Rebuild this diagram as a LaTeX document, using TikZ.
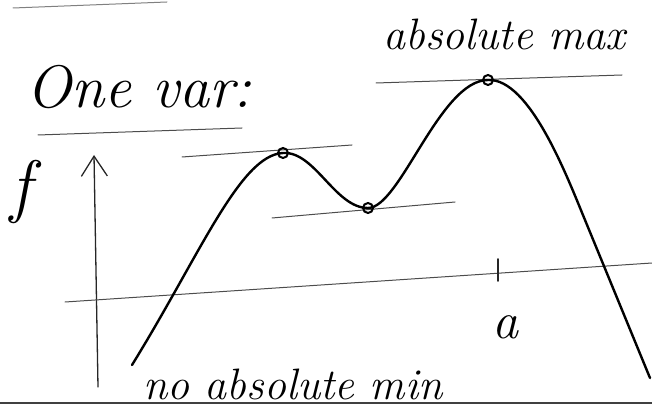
\documentclass[tikz,border=0pt]{standalone}
\usepackage{fontspec}
\setmainfont{Latin Modern Roman}
\usetikzlibrary{arrows.meta}
\begin{document}
\begin{tikzpicture}[x=1pt,y=-1pt,
  ink/.style={line width=1.3pt, draw=black!85, line cap=round},
  thin/.style={line width=1pt, draw=black!70, line cap=round},
  graph/.style={line width=2.4pt, draw=black, line cap=round, line join=round},
  dot/.style={circle, draw=black, line width=2pt, inner sep=0pt, minimum size=10pt},
  hand/.style={inner sep=0pt, anchor=base west}]
\useasboundingbox (0,0) rectangle (652,411);
% edges of the page
\coordinate (tl1) at (13,8); \coordinate (tl2) at (167,2);
\draw[thin, black!50] (tl1) -- (tl2);
\coordinate (b1) at (0,403); \coordinate (b2) at (652,403);
\draw[ink, black!75] (b1) -- (b2);
% labels
\node[hand, font=\itshape\fontsize{60}{60}\selectfont] (onevar) at (26,108) {One var:};
\coordinate (u1) at (38,135); \coordinate (u2) at (242,128);
\draw[thin] (u1) -- (u2);
\node[hand, font=\itshape\fontsize{44}{44}\selectfont] (amax) at (383,50) {absolute max};
\node[hand, font=\itshape\fontsize{44}{44}\selectfont] (amin) at (143,399) {no absolute min};
\node[hand, font=\itshape\fontsize{70}{70}\selectfont] (f) at (10,210) {f};
\node[hand, font=\itshape\fontsize{52}{52}\selectfont] (a) at (492,338) {a};
% axes
\coordinate (yb) at (98,387); \coordinate (yt) at (94,155);
\draw[ink, -{Straight Barb[length=20pt,width=26pt,line width=1.3pt]}] (yb) -- (yt);
\coordinate (x1) at (65,302); \coordinate (x2) at (652,263);
\draw[thin] (x1) -- (x2);
\coordinate (t1) at (498,259); \coordinate (t2) at (498,281);
\draw[ink, line width=1.8pt] (t1) -- (t2);
% extrema
\coordinate (p0) at (132,365);
\coordinate (m1) at (283,153);
\coordinate (m2) at (368,208);
\coordinate (m3) at (488,80);
\coordinate (p3) at (585,220);
\coordinate (p4) at (650,378);
% tangents
\coordinate (h1a) at (182,157); \coordinate (h1b) at (352,145);
\coordinate (h2a) at (272,218); \coordinate (h2b) at (455,202);
\coordinate (h3a) at (376,83);  \coordinate (h3b) at (622,75);
\draw[thin] (h1a) -- (h1b);
\draw[thin] (h2a) -- (h2b);
\draw[thin] (h3a) -- (h3b);
% graph
\draw[graph] (p0) .. controls (200,255) and (240,155) .. (m1)
  .. controls (315,151) and (335,208) .. (m2)
  .. controls (400,208) and (440,80) .. (m3)
  .. controls (530,78) and (568,179) .. (p3) -- (p4);
\node[dot] (d1) at (m1) {};
\node[dot] (d2) at (m2) {};
\node[dot] (d3) at (m3) {};
\end{tikzpicture}
\end{document}
